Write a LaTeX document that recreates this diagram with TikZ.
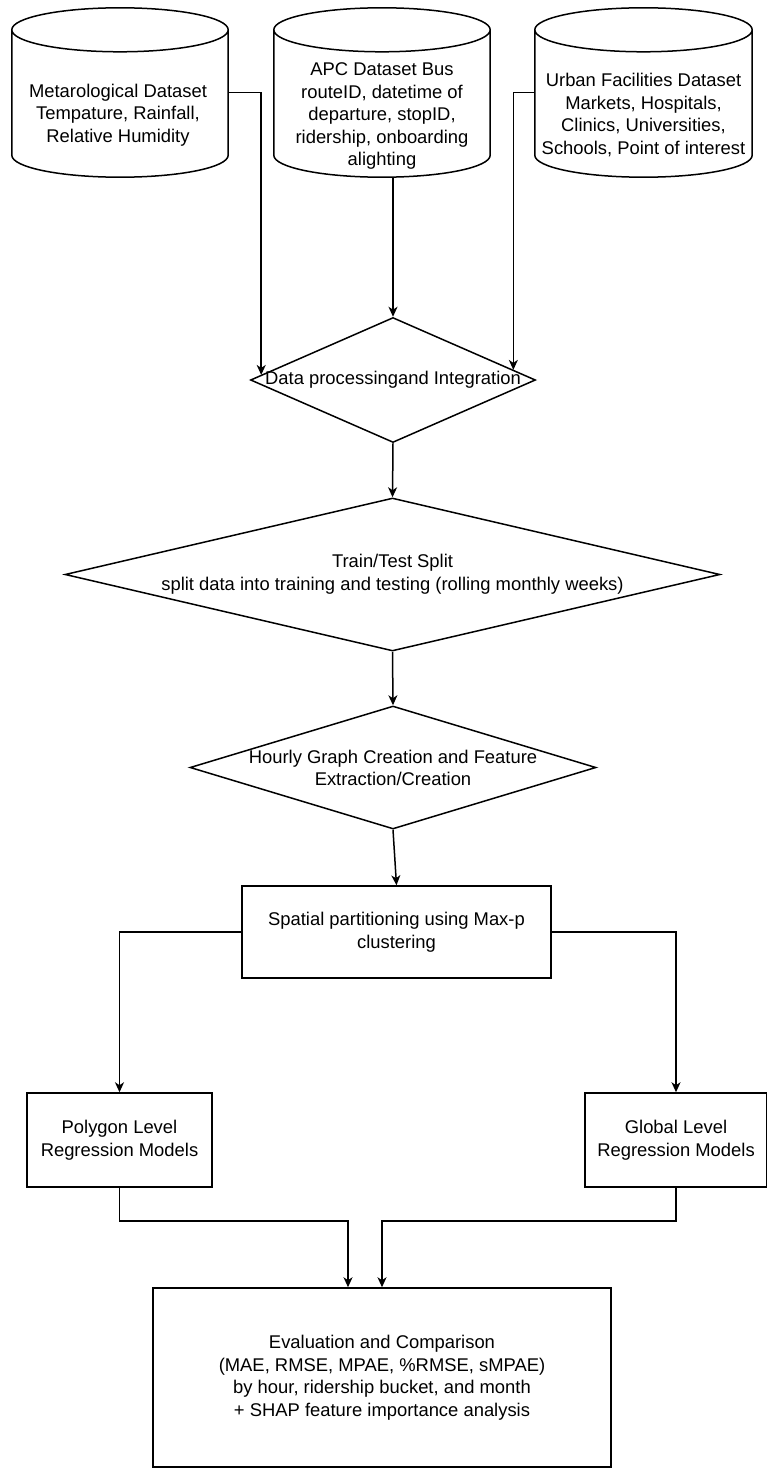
\documentclass[tikz,border=0pt]{standalone}
\usepackage{fontspec}
\setmainfont{Liberation Sans}
\usetikzlibrary{shapes.geometric,arrows.meta,calc}
\newcommand{\txt}{\fontsize{18.4}{22.5}\selectfont}
\newcommand{\drawcyl}[1]{%
  \draw[line] let \p1=(#1.north west), \p2=(#1.south east) in
    (\x1,\y1-22pt) -- (\x1,\y2+22pt)
    arc[start angle=180,end angle=360,x radius={(\x2-\x1)/2},y radius=22pt]
    -- (\x2,\y1-22pt)
    arc[start angle=0,end angle=180,x radius={(\x2-\x1)/2},y radius=22pt]
    -- cycle
    (\x1,\y1-22pt)
    arc[start angle=180,end angle=360,x radius={(\x2-\x1)/2},y radius=22pt];}
\tikzset{
  line/.style={line width=1.5pt, draw=black},
  arr/.style={line, -{Stealth[length=10pt,width=9pt,inset=3pt]}},
  box/.style={draw, line width=1.5pt, rectangle, inner sep=0pt, align=center, font=\txt},
  dia/.style={draw, line width=1.5pt, diamond, inner sep=0pt},
  lbl/.style={align=center, font=\txt, inner sep=0pt},
  cylnode/.style={inner sep=0pt, minimum height=169pt}
}
\begin{document}
\begin{tikzpicture}[x=1pt,y=-1pt]
\fill[white] (0,0) rectangle (767,1469);
\useasboundingbox (0,0) rectangle (767,1469);

% cylinders
\node[cylnode, minimum width=216pt] (c1) at (120,92.5) {};
\node[cylnode, minimum width=216pt] (c2) at (382,92.5) {};
\node[cylnode, minimum width=217pt] (c3) at (643.5,92.5) {};
\drawcyl{c1}
\drawcyl{c2}
\drawcyl{c3}
\node[lbl] (c1t) at (118,115) {Metarological Dataset\\Tempature, Rainfall,\\Relative Humidity};
\node[lbl] (c2t) at (382,116) {APC Dataset Bus\\routeID, datetime of\\departure, stopID,\\ridership, onboarding\\alighting};
\node[lbl] (c3t) at (643.5,115) {Urban Facilities Dataset\\Markets, Hospitals,\\Clinics, Universities,\\Schools, Point of interest};

% diamonds
\node[dia, minimum width=285pt, minimum height=125pt] (dp) at (393,380) {};
\node[lbl] (dpt) at (393,380) {Data processingand Integration};
\node[dia, minimum width=655pt, minimum height=153pt] (d2) at (392.5,574.5) {};
\node[lbl] (d2t) at (392.5,574) {Train/Test Split\\split data into training and testing (rolling monthly weeks)};
\node[dia, minimum width=406pt, minimum height=123pt] (d3) at (393,767.5) {};
\node[lbl] (d3t) at (393,768) {Hourly Graph Creation and Feature\\Extraction/Creation};

% boxes
\node[box, minimum width=309pt, minimum height=92pt] (sp) at (396.5,932) {Spatial partitioning using Max-p\\clustering};
\node[box, minimum width=185pt, minimum height=94pt] (pl) at (119.5,1140) {Polygon Level\\Regression Models};
\node[box, minimum width=182pt, minimum height=94pt] (gl) at (676,1140) {Global Level\\Regression Models};
\node[box, minimum width=458pt, minimum height=179pt] (ev) at (382,1377.5) {Evaluation and Comparison\\(MAE, RMSE, MPAE, \%RMSE, sMPAE)\\by hour, ridership bucket, and month\\+ SHAP feature importance analysis};

% connectors
\draw[arr] (c1.east) -| ($(dp.west)!0.08!(dp.north)$);
\draw[arr] (c3.west) -| ($(dp.east)!0.16!(dp.north)$);
\draw[arr] (c2.south -| dp.north) -- (dp.north);
\draw[arr] (dp.south) -- (d2.north);
\draw[arr] (d2.south) -- (d3.north);
\draw[arr] (d3.south) -- (sp.north);
\draw[arr] (sp.west) -| (pl.north);
\draw[arr] (sp.east) -| (gl.north);
\coordinate (jl) at (0,1221);
\draw[arr] (pl.south) -- (pl.south |- jl) -| ([xshift=-34pt]ev.north);
\draw[arr] (gl.south) -- (gl.south |- jl) -| (ev.north);
\end{tikzpicture}
\end{document}
